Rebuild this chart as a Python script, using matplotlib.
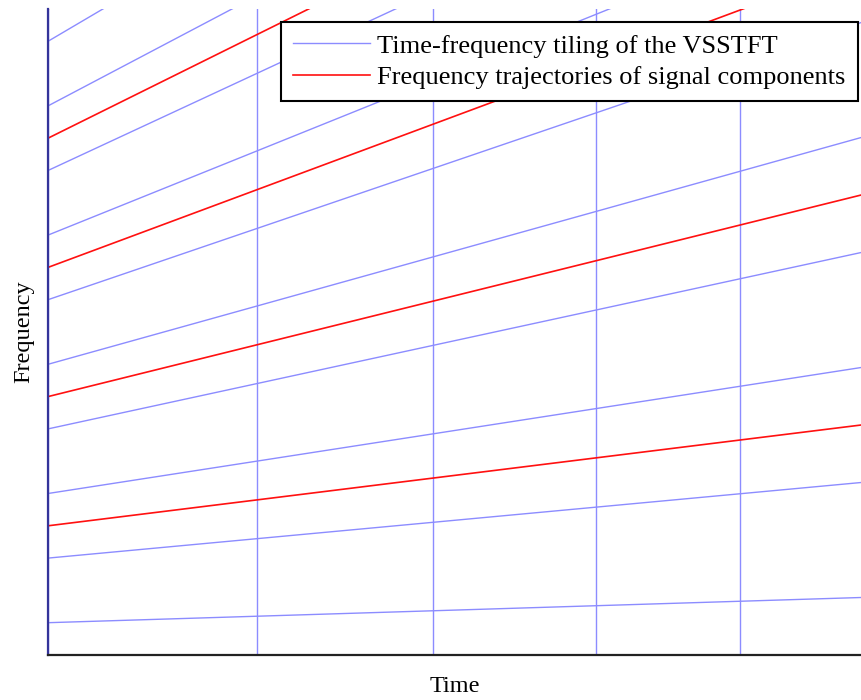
import matplotlib.pyplot as plt

# time axis (s) and frequency axis (Hz)
t_start = 0.0
t_end = 1.0

# frequency trajectories of the signal components (harmonics), at t_start / t_end
red_start = [10.0, 20.0, 30.0, 40.0, 50.0]
red_end = [17.8, 35.6, 53.4, 71.2, 89.0]

# horizontal tiling boundaries of the VSSTFT, at t_start / t_end
blue_start = [2.5, 7.5, 12.5, 17.5, 22.5, 27.5, 32.5, 37.5, 42.5, 47.5]
blue_end = [4.45, 13.35, 22.25, 31.15, 40.05, 48.95, 57.85, 66.75, 75.65, 84.55]

# time boundaries of the tiling
tile_times = [0.0, 0.257, 0.4736, 0.674, 0.851]

plt.rcParams['font.family'] = ['Liberation Serif', 'DejaVu Serif']

fig = plt.figure(figsize=(8.61, 7.0), dpi=100)
ax = fig.add_axes([48 / 861, 45 / 700, 1 - 48 / 861, (655 - 9) / 700])

blue = '#8c8cff'
red = '#ff1010'

for tt in tile_times:
    ax.axvline(tt, color=blue, lw=1.0)

for i in range(len(blue_start)):
    ax.plot([t_start, t_end], [blue_start[i], blue_end[i]], color=blue, lw=1.0,
            label='Time-frequency tiling of the VSSTFT' if i == 0 else None)

for i in range(len(red_start)):
    ax.plot([t_start, t_end], [red_start[i], red_end[i]], color=red, lw=1.2,
            label='Frequency trajectories of signal components' if i == 0 else None)

ax.set_xlim(0, 1)
ax.set_ylim(0, 50)
ax.set_xticks([])
ax.set_yticks([])
ax.spines['top'].set_visible(False)
ax.spines['right'].set_visible(False)
ax.spines['left'].set_color('#34349a')
ax.spines['left'].set_linewidth(1.6)
ax.spines['bottom'].set_color('#222222')
ax.spines['bottom'].set_linewidth(1.6)

ax.set_xlabel('Time', fontsize=17.5, labelpad=15)
ax.set_ylabel('Frequency', fontsize=17.5, labelpad=10)

leg = ax.legend(loc='upper right', bbox_to_anchor=(858 / 861, 678 / 700),
                bbox_transform=fig.transFigure, fontsize=19, handlelength=2.9,
                labelspacing=0.3, fancybox=False, framealpha=1, edgecolor='black',
                borderpad=0.46, handletextpad=0.3, borderaxespad=0)
leg.get_frame().set_linewidth(1.5)

fig.savefig('out.png', dpi=100)
